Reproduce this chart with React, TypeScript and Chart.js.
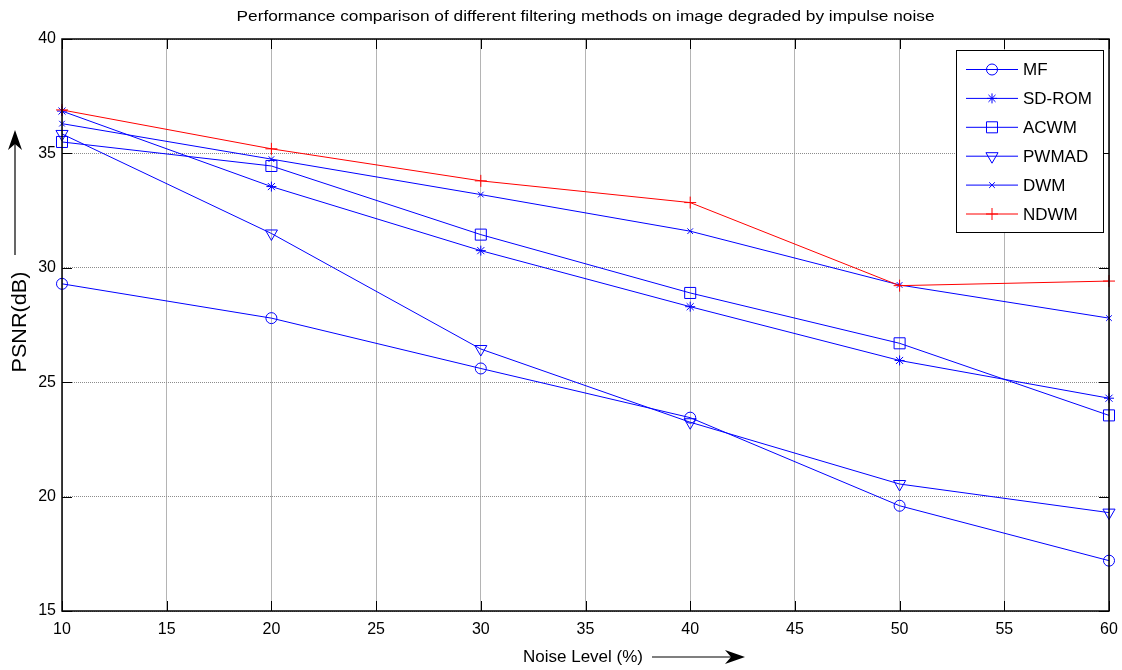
import React, { useEffect, useRef } from "react";
import { Chart, registerables } from "chart.js";
import { drawPoint } from "chart.js/helpers";

Chart.register(...registerables);

const noiseLevels = [10, 20, 30, 40, 50, 60];
const mfValues = [29.3, 27.8, 25.6, 23.45, 19.6, 17.2];
const sdromValues = [36.85, 33.55, 30.75, 28.3, 25.95, 24.3];
const acwmValues = [35.5, 34.45, 31.45, 28.9, 26.7, 23.55];
const pwmadValues = [35.85, 31.5, 26.45, 23.25, 20.55, 19.3];
const dwmValues = [36.3, 34.75, 33.2, 31.6, 29.25, 27.8];
const ndwmValues = [36.9, 35.2, 33.8, 32.85, 29.22, 29.42];

const seriesNames = ["MF", "SD-ROM", "ACWM", "PWMAD", "DWM", "NDWM"];
const seriesValues = [mfValues, sdromValues, acwmValues, pwmadValues, dwmValues, ndwmValues];
const seriesColors = ["#0000ff", "#0000ff", "#0000ff", "#0000ff", "#0000ff", "#ff0000"];
const seriesMarkers = ["circle", "star", "rect", "triangle", "crossRot", "cross"];
const seriesMarkerRadius = [5.5, 5, 7.8, 7, 4, 6];
const seriesMarkerRotation = [0, 0, 0, 180, 0, 0];

const xTicksMin = 10;
const xTicksMax = 60;
const xTickStep = 5;
const yTicksMin = 15;
const yTicksMax = 40;
const yTickStep = 5;

const titleText = "Performance comparison of different filtering methods on image degraded by impulse noise";
const xTitleText = "Noise Level (%)";
const yTitleText = "PSNR(dB)";

const FONT = 'Arial, "Liberation Sans", Helvetica, sans-serif';

function drawArrowHead(ctx: CanvasRenderingContext2D, tipX: number, tipY: number, dir: "up" | "right") {
  const len = 20;
  const half = 7;
  const notch = 14;
  ctx.beginPath();
  if (dir === "up") {
    ctx.moveTo(tipX, tipY);
    ctx.lineTo(tipX - half, tipY + len);
    ctx.lineTo(tipX, tipY + notch);
    ctx.lineTo(tipX + half, tipY + len);
  } else {
    ctx.moveTo(tipX, tipY);
    ctx.lineTo(tipX - len, tipY - half);
    ctx.lineTo(tipX - notch, tipY);
    ctx.lineTo(tipX - len, tipY + half);
  }
  ctx.closePath();
  ctx.fill();
}

function drawFitText(
  ctx: CanvasRenderingContext2D,
  text: string,
  cx: number,
  cy: number,
  targetW: number,
  font: string,
  rotate = 0
) {
  ctx.save();
  ctx.font = font;
  const w = ctx.measureText(text).width;
  ctx.translate(cx, cy);
  if (rotate) ctx.rotate(rotate);
  ctx.scale(targetW / w, 1);
  ctx.textAlign = "center";
  ctx.textBaseline = "middle";
  ctx.fillText(text, 0, 0);
  ctx.restore();
}

const decorPlugin = {
  id: "decor",
  afterDraw(chart: any) {
    const ctx: CanvasRenderingContext2D = chart.ctx;
    const { left, top, right, bottom } = chart.chartArea;
    const xs = chart.scales.x;
    const ys = chart.scales.y;
    ctx.save();
    ctx.fillStyle = "#000";
    ctx.strokeStyle = "#000";

    // inward ticks
    ctx.lineWidth = 1;
    ctx.beginPath();
    xs.ticks.forEach((t: any) => {
      const px = Math.round(xs.getPixelForValue(t.value)) + 0.5;
      ctx.moveTo(px, bottom);
      ctx.lineTo(px, bottom - 10);
      ctx.moveTo(px, top);
      ctx.lineTo(px, top + 10);
    });
    ys.ticks.forEach((t: any) => {
      const py = Math.round(ys.getPixelForValue(t.value)) + 0.5;
      ctx.moveTo(left, py);
      ctx.lineTo(left + 10, py);
      ctx.moveTo(right, py);
      ctx.lineTo(right - 10, py);
    });
    ctx.stroke();

    // box
    ctx.lineWidth = 1.5;
    ctx.strokeRect(left, top, right - left, bottom - top);

    // title
    drawFitText(ctx, titleText, (left + right) / 2, 17, 698, `14px ${FONT}`);

    // x title + arrow
    drawFitText(ctx, xTitleText, 583, 657, 120, `17px ${FONT}`);
    ctx.lineWidth = 1.2;
    ctx.beginPath();
    ctx.moveTo(652, 657);
    ctx.lineTo(735, 657);
    ctx.stroke();
    drawArrowHead(ctx, 745, 657, "right");

    // y title + arrow
    drawFitText(ctx, yTitleText, 20, 322, 101, `20px ${FONT}`, -Math.PI / 2);
    ctx.beginPath();
    ctx.moveTo(15, 255);
    ctx.lineTo(15, 140);
    ctx.stroke();
    drawArrowHead(ctx, 15, 130, "up");

    // legend
    const lx = 956.5, ly = 50.5, lw = 147, lh = 182;
    ctx.fillStyle = "#fff";
    ctx.fillRect(lx, ly, lw, lh);
    ctx.strokeStyle = "#000";
    ctx.lineWidth = 1;
    ctx.strokeRect(lx, ly, lw, lh);
    ctx.font = `17px ${FONT}`;
    ctx.textAlign = "left";
    ctx.textBaseline = "middle";
    seriesNames.forEach((name, i) => {
      const ry = 69.5 + i * 28.9;
      ctx.strokeStyle = seriesColors[i];
      ctx.lineWidth = 1;
      ctx.beginPath();
      ctx.moveTo(966, ry);
      ctx.lineTo(1018, ry);
      ctx.stroke();
      ctx.fillStyle = "rgba(0,0,0,0)";
      drawPoint(
        ctx,
        {
          pointStyle: seriesMarkers[i],
          radius: seriesMarkerRadius[i],
          rotation: seriesMarkerRotation[i],
          borderWidth: 1,
        } as any,
        992,
        ry
      );
      ctx.fillStyle = "#000";
      ctx.fillText(name, 1023, ry + 1);
    });
    ctx.restore();
  },
};

export default function App() {
  const canvasRef = useRef<HTMLCanvasElement | null>(null);

  useEffect(() => {
    if (!canvasRef.current) return;
    const datasets = seriesNames.map((name, i) => ({
      label: name,
      data: noiseLevels.map((x, j) => ({ x, y: seriesValues[i][j] })),
      borderColor: seriesColors[i],
      backgroundColor: "rgba(0,0,0,0)",
      borderWidth: 1,
      pointStyle: seriesMarkers[i],
      pointRadius: seriesMarkerRadius[i],
      pointRotation: seriesMarkerRotation[i],
      pointBorderColor: seriesColors[i],
      pointBackgroundColor: "rgba(0,0,0,0)",
      pointBorderWidth: 1,
      tension: 0,
      fill: false,
      clip: false,
      order: seriesNames.length - i,
    }));

    const chart = new Chart(canvasRef.current, {
      type: "line",
      data: { datasets },
      options: {
        animation: false,
        responsive: false,
        devicePixelRatio: 1,
        layout: { padding: { top: 39, right: 13, left: 0, bottom: 0 } },
        plugins: {
          legend: { display: false },
          title: { display: false },
          tooltip: { enabled: false },
        },
        scales: {
          x: {
            type: "linear",
            min: xTicksMin,
            max: xTicksMax,
            ticks: {
              stepSize: xTickStep,
              color: "#000",
              font: { family: FONT, size: 16 },
              padding: 9,
              maxRotation: 0,
            },
            grid: { color: "#b4b4b4", lineWidth: 1, drawTicks: false },
            border: { display: false },
            afterFit: (s: any) => {
              s.height = 59;
              s.paddingLeft = 0;
              s.paddingRight = 0;
            },
          },
          y: {
            type: "linear",
            min: yTicksMin,
            max: yTicksMax,
            ticks: {
              stepSize: yTickStep,
              color: "#000",
              font: { family: FONT, size: 16 },
              padding: 6,
            },
            grid: { color: "#8c8c8c", lineWidth: 1, drawTicks: false },
            border: { display: false, dash: [1, 1] },
            afterFit: (s: any) => {
              s.width = 62;
              s.paddingTop = 0;
              s.paddingBottom = 0;
            },
          },
        },
      },
      plugins: [decorPlugin],
    });
    return () => chart.destroy();
  }, []);

  return (
    <div style={{ position: "fixed", left: 0, top: 0, width: 1122, height: 670, background: "#fff" }}>
      <canvas ref={canvasRef} width={1122} height={670} style={{ display: "block" }} />
    </div>
  );
}
